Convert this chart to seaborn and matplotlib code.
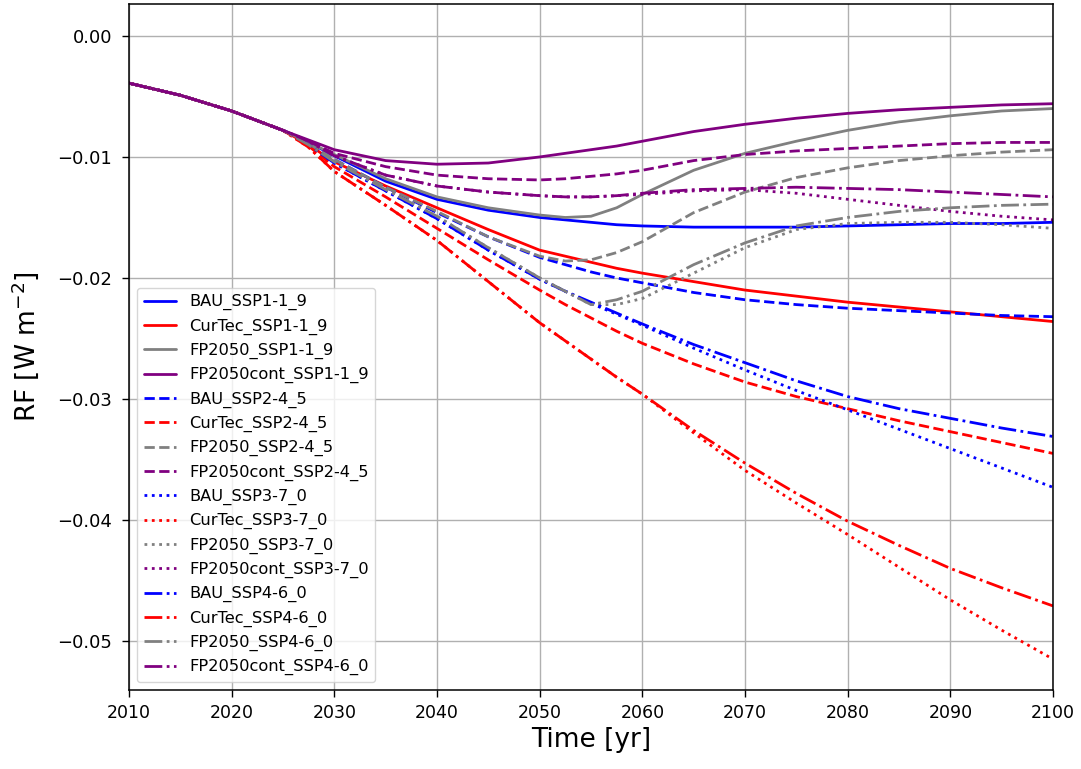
import matplotlib
matplotlib.use("Agg")
import matplotlib.pyplot as plt
import seaborn as sns

years = [2010, 2015, 2020, 2025, 2027.5, 2030, 2035, 2040, 2045, 2050, 2052.5, 2055,
         2057.5, 2060, 2065, 2070, 2075, 2080, 2085, 2090, 2095, 2100]

start = [-0.0039, -0.0049, -0.0062, -0.0078]

bau_ssp1 = start + [-0.0088, -0.0099, -0.0120, -0.0135, -0.0144, -0.0150, -0.0152, -0.0154, -0.0156, -0.0157, -0.0158, -0.0158, -0.0158, -0.0157, -0.0156, -0.0155, -0.0155, -0.0154]
curtec_ssp1 = start + [-0.0090, -0.0104, -0.0124, -0.0142, -0.0160, -0.0177, -0.0182, -0.0187, -0.0192, -0.0196, -0.0203, -0.0210, -0.0215, -0.0220, -0.0224, -0.0228, -0.0232, -0.0236]
fp2050_ssp1 = start + [-0.0088, -0.0098, -0.0118, -0.0133, -0.0142, -0.0148, -0.0150, -0.0149, -0.0142, -0.0131, -0.0111, -0.0097, -0.0087, -0.0078, -0.0071, -0.0066, -0.0062, -0.0060]
fp2050cont_ssp1 = start + [-0.0086, -0.0094, -0.0103, -0.0106, -0.0105, -0.0100, -0.0097, -0.0094, -0.0091, -0.0087, -0.0079, -0.0073, -0.0068, -0.0064, -0.0061, -0.0059, -0.0057, -0.0056]

bau_ssp2 = start + [-0.0089, -0.0102, -0.0125, -0.0146, -0.0166, -0.0183, -0.0189, -0.0195, -0.0200, -0.0204, -0.0212, -0.0218, -0.0222, -0.0225, -0.0227, -0.0229, -0.0231, -0.0232]
curtec_ssp2 = start + [-0.0091, -0.0108, -0.0133, -0.0159, -0.0185, -0.0210, -0.0222, -0.0233, -0.0244, -0.0254, -0.0271, -0.0286, -0.0298, -0.0308, -0.0318, -0.0327, -0.0336, -0.0345]
fp2050_ssp2 = start + [-0.0089, -0.0102, -0.0125, -0.0145, -0.0166, -0.0182, -0.0186, -0.0185, -0.0179, -0.0170, -0.0146, -0.0129, -0.0117, -0.0109, -0.0103, -0.0099, -0.0096, -0.0094]
fp2050cont_ssp2 = start + [-0.0087, -0.0097, -0.0108, -0.0115, -0.0118, -0.0119, -0.0118, -0.0116, -0.0114, -0.0111, -0.0103, -0.0098, -0.0095, -0.0093, -0.0091, -0.0089, -0.0088, -0.0088]

bau_ssp3 = start + [-0.0090, -0.0105, -0.0128, -0.0151, -0.0177, -0.0201, -0.0211, -0.0221, -0.0230, -0.0239, -0.0258, -0.0276, -0.0293, -0.0309, -0.0325, -0.0341, -0.0357, -0.0373]
curtec_ssp3 = start + [-0.0092, -0.0112, -0.0140, -0.0169, -0.0203, -0.0237, -0.0252, -0.0267, -0.0282, -0.0296, -0.0328, -0.0359, -0.0386, -0.0412, -0.0439, -0.0466, -0.0491, -0.0515]
fp2050_ssp3 = start + [-0.0090, -0.0104, -0.0127, -0.0149, -0.0175, -0.0200, -0.0211, -0.0222, -0.0222, -0.0217, -0.0196, -0.0175, -0.0160, -0.0155, -0.0154, -0.0154, -0.0156, -0.0159]
fp2050cont_ssp3 = start + [-0.0087, -0.0099, -0.0115, -0.0124, -0.0129, -0.0132, -0.0133, -0.0133, -0.0132, -0.0131, -0.0128, -0.0127, -0.0130, -0.0135, -0.0140, -0.0145, -0.0149, -0.0152]

bau_ssp4 = start + [-0.0090, -0.0105, -0.0128, -0.0151, -0.0177, -0.0201, -0.0211, -0.0220, -0.0229, -0.0238, -0.0255, -0.0270, -0.0285, -0.0298, -0.0308, -0.0316, -0.0324, -0.0331]
curtec_ssp4 = start + [-0.0092, -0.0112, -0.0140, -0.0169, -0.0203, -0.0237, -0.0252, -0.0267, -0.0282, -0.0296, -0.0326, -0.0353, -0.0378, -0.0401, -0.0421, -0.0440, -0.0456, -0.0471]
fp2050_ssp4 = start + [-0.0090, -0.0104, -0.0127, -0.0149, -0.0175, -0.0200, -0.0211, -0.0222, -0.0218, -0.0211, -0.0189, -0.0171, -0.0157, -0.0150, -0.0145, -0.0142, -0.0140, -0.0139]
fp2050cont_ssp4 = start + [-0.0087, -0.0099, -0.0115, -0.0124, -0.0129, -0.0132, -0.0133, -0.0133, -0.0132, -0.0130, -0.0127, -0.0126, -0.0125, -0.0126, -0.0127, -0.0129, -0.0131, -0.0133]

series = [
    ("BAU_SSP1-1_9", bau_ssp1, "blue", "-"),
    ("CurTec_SSP1-1_9", curtec_ssp1, "red", "-"),
    ("FP2050_SSP1-1_9", fp2050_ssp1, "gray", "-"),
    ("FP2050cont_SSP1-1_9", fp2050cont_ssp1, "purple", "-"),
    ("BAU_SSP2-4_5", bau_ssp2, "blue", "--"),
    ("CurTec_SSP2-4_5", curtec_ssp2, "red", "--"),
    ("FP2050_SSP2-4_5", fp2050_ssp2, "gray", "--"),
    ("FP2050cont_SSP2-4_5", fp2050cont_ssp2, "purple", "--"),
    ("BAU_SSP3-7_0", bau_ssp3, "blue", ":"),
    ("CurTec_SSP3-7_0", curtec_ssp3, "red", ":"),
    ("FP2050_SSP3-7_0", fp2050_ssp3, "gray", ":"),
    ("FP2050cont_SSP3-7_0", fp2050cont_ssp3, "purple", ":"),
    ("BAU_SSP4-6_0", bau_ssp4, "blue", "-."),
    ("CurTec_SSP4-6_0", curtec_ssp4, "red", "-."),
    ("FP2050_SSP4-6_0", fp2050_ssp4, "gray", "-."),
    ("FP2050cont_SSP4-6_0", fp2050cont_ssp4, "purple", "-."),
]

sns.set_style("ticks")
plt.rcParams['font.family'] = ['DejaVu Sans']
plt.rcParams['text.color'] = 'black'
plt.rcParams['axes.labelcolor'] = 'black'
plt.rcParams['xtick.color'] = 'black'
plt.rcParams['ytick.color'] = 'black'

fig = plt.figure(figsize=(10.81, 7.69), dpi=100)
ax = fig.add_axes([0.1193, 0.1027, 0.9741 - 0.1193, 0.9948 - 0.1027])

for name, vals, color, ls in series:
    sns.lineplot(x=years, y=vals, ax=ax, color=color, linestyle=ls,
                 linewidth=2, label=name)

ax.set_xlim(2010, 2100)
ax.set_ylim(-0.05405, 0.00264)
ax.set_xticks(list(range(2010, 2101, 10)))
ax.set_yticks([0.0, -0.01, -0.02, -0.03, -0.04, -0.05])
ax.grid(True, color="#b0b0b0", linewidth=1)
ax.tick_params(axis="x", labelsize=12.5, length=5, width=1, pad=5)
ax.tick_params(axis="y", labelsize=13, length=5, width=1, pad=7)
for s in ax.spines.values():
    s.set_color("black")
    s.set_linewidth(1.1)
ax.set_xlabel("Time [yr]", fontsize=19, labelpad=4)
ax.set_ylabel("RF [W m$^{-2}$]", fontsize=19, labelpad=12)
ax.legend(loc="lower left", fontsize=11.7, frameon=True, framealpha=0.8,
          edgecolor="#cccccc", handlelength=2.0, labelspacing=0.5,
          borderaxespad=0.5)

fig.savefig("out.png", dpi=100)
